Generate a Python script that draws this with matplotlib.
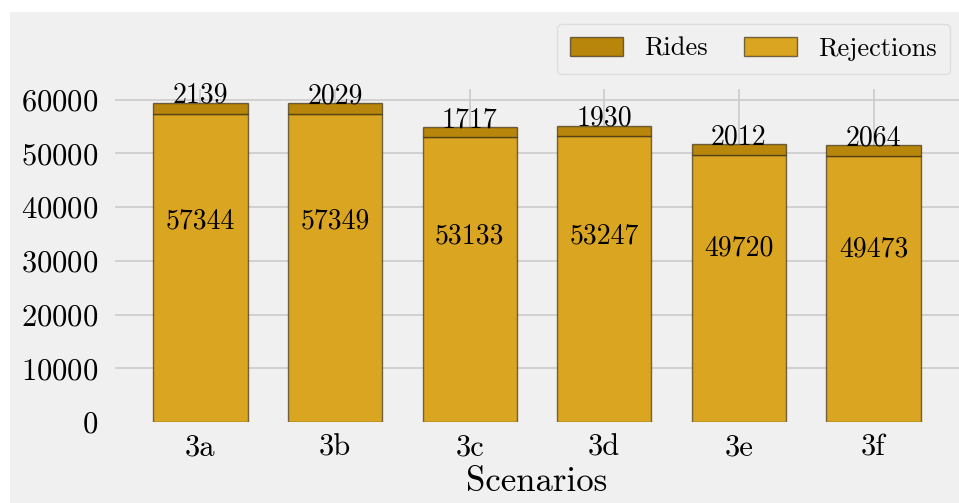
import matplotlib
matplotlib.use('Agg')
import matplotlib.pyplot as plt
from matplotlib.patches import Rectangle
import numpy as np

scenarios = ['3a', '3b', '3c', '3d', '3e', '3f']
rejections = [57344, 57349, 53133, 53247, 49720, 49473]
rides = [2139, 2029, 1717, 1930, 2012, 2064]

plt.rcParams['font.family'] = 'cmr10'
plt.rcParams['mathtext.fontset'] = 'cm'
plt.rcParams['axes.unicode_minus'] = False
plt.rcParams['axes.formatter.use_mathtext'] = True

bg = '#f0f0f0'
fig = plt.figure(figsize=(9.59, 5.03), dpi=100, facecolor='white')
# grey panel behind everything (small white strip on top/left)
fig.patches.append(Rectangle((10 / 959, 0), 1, 1 - 12 / 503, transform=fig.transFigure,
                             facecolor=bg, edgecolor='none', zorder=-10))
ax = fig.add_axes([115 / 959, 1 - 422 / 503, 1 - 115 / 959, (422 - 89) / 503])
ax.set_facecolor(bg)

x = np.arange(len(scenarios))
edge = (0.2, 0.16, 0.08, 0.65)
ax.bar(x, rejections, width=0.7, color='#daa520', edgecolor=edge, linewidth=1.0,
       label='Rejections', zorder=3)
ax.bar(x, rides, width=0.7, bottom=rejections, color='#b8860b', edgecolor=edge,
       linewidth=1.0, label='Rides', zorder=3)

for xi, rej, rid in zip(x, rejections, rides):
    ax.text(xi, rej * 0.65, str(rej), ha='center', va='center', fontsize=20, zorder=4)
    ax.text(xi, rej + rid, str(rid), ha='center', va='baseline', fontsize=20, zorder=4)

ax.set_ylim(0, 62000)
ax.set_yticks([0, 10000, 20000, 30000, 40000, 50000, 60000])
ax.set_xticks(x)
ax.set_xticklabels(scenarios)
ax.tick_params(axis='both', length=0, labelsize=22, pad=12)
ax.tick_params(axis='x', pad=9)
ax.set_xlabel('Scenarios', fontsize=25, labelpad=3)
ax.grid(True, color='#cbcbcb', linewidth=1.2, zorder=0)
ax.set_axisbelow(True)
ax.get_ygridlines()[0].set_visible(False)
for s in ax.spines.values():
    s.set_visible(False)

handles, labels = ax.get_legend_handles_labels()
leg = ax.legend(handles[::-1], labels[::-1], loc='upper right', ncol=2, fontsize=19,
                frameon=True, facecolor=bg, edgecolor='#dddddd', framealpha=1,
                bbox_to_anchor=(1.005, 1.235), handlelength=2.0, columnspacing=1.4,
                borderpad=0.5)
leg.get_frame().set_linewidth(1.0)

fig.savefig('out.png', dpi=100, facecolor='white')
